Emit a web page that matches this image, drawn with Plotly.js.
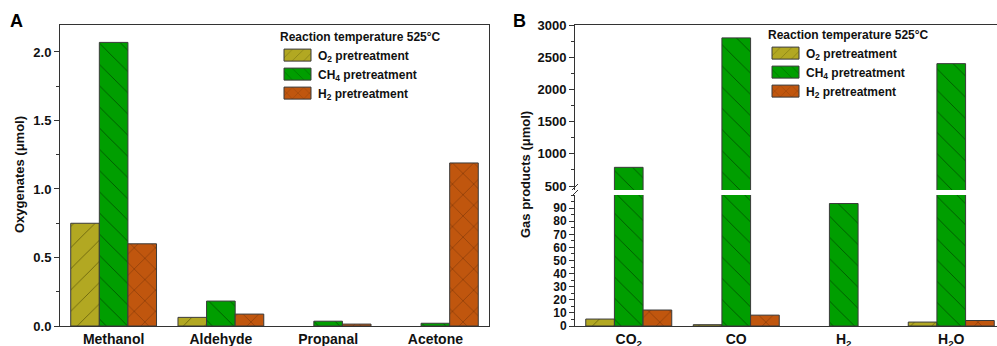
<!DOCTYPE html>
<html>
<head>
<meta charset="utf-8">
<script src="https://cdn.plot.ly/plotly-3.0.1.min.js"></script>
<style>
html,body{margin:0;padding:0;overflow:hidden;background:#fff;width:997px;height:346px;}
#chart{width:1010px;height:346px;}
</style>
</head>
<body>
<div id="chart"></div>
<script>
// ---- data ----
const catsA = ['Methanol', 'Aldehyde', 'Propanal', 'Acetone'];
const o2A = [0.75, 0.063, 0, 0];
const ch4A = [2.07, 0.182, 0.035, 0.02];
const h2A = [0.60, 0.087, 0.014, 1.19];

const catsB = ['CO<sub>2</sub>', 'CO', 'H<sub>2</sub>', 'H<sub>2</sub>O'];
const o2B = [5.3, 1, 0, 3];
const ch4B = [790, 2800, 93.5, 2400];
const h2B = [12.2, 8.3, 0, 4.2];

const seriesNames = ['O<sub>2</sub> pretreatment', 'CH<sub>4</sub> pretreatment', 'H<sub>2</sub> pretreatment'];
const legendTitle = 'Reaction temperature 525°C';
const yTitleA = 'Oxygenates (μmol)';
const yTitleB = 'Gas products (μmol)';
const lowerTickVals = [0, 10, 20, 30, 40, 50, 60, 70, 80, 90];

// ---- styles ----
const W = 1010, H = 346;
const FONT = 'Liberation Sans, Arial, sans-serif';
const styles = [
  {bg: '#B2A822', fg: '#5e5808', shape: '/'},
  {bg: '#009E00', fg: '#004a00', shape: '\\'},
  {bg: '#C0560E', fg: '#5a2403', shape: 'x'}
];

function mk(x, y, i, xa, ya, legend, show) {
  const s = styles[i];
  return {
    type: 'bar', x: x, y: y, name: seriesNames[i],
    xaxis: xa, yaxis: ya, legend: legend, showlegend: show,
    marker: {
      color: s.bg,
      line: {color: '#3a3a3a', width: y.map(v => (v > 0 ? 1 : 0))},
      pattern: {shape: s.shape, bgcolor: s.bg, fgcolor: s.fg, fgopacity: 1, size: 15, solidity: 0.05, fillmode: 'overlay'}
    },
    hoverinfo: 'skip'
  };
}

const valsA = [o2A, ch4A, h2A];
const valsB = [o2B, ch4B, h2B];
const traces = [];
valsA.forEach((v, i) => traces.push(mk(catsA, v, i, 'x', 'y', 'legend', true)));
valsB.forEach((v, i) => traces.push(mk(catsB, v, i, 'x2', 'y2', 'legend2', true)));
valsB.forEach((v, i) => traces.push(mk(catsB, v, i, 'x3', 'y3', 'legend2', false)));

const px = v => v / W;           // x pixel -> paper
const py = v => 1 - v / H;       // y pixel (from top) -> paper

const tickFont = {family: FONT, size: 13, color: '#111', weight: 700};
const smallTickFont = {family: FONT, size: 12, color: '#111', weight: 700};
const catFont = {family: FONT, size: 14, color: '#111', weight: 700};
const legFont = {family: FONT, size: 12, color: '#111', weight: 700};
const lineCol = '#333';

const baseY = {
  showgrid: false, zeroline: false, showline: true, linecolor: lineCol, linewidth: 1,
  ticks: 'outside', ticklen: 5, tickwidth: 1, tickcolor: lineCol,
  tickfont: tickFont, fixedrange: true
};

const layout = {
  width: W, height: H,
  margin: {l: 0, r: 0, t: 0, b: 0},
  paper_bgcolor: '#fff', plot_bgcolor: 'rgba(0,0,0,0)',
  barmode: 'group', bargap: 0.2, bargroupgap: 0,
  showlegend: true,
  xaxis: {
    domain: [px(60), px(489)], anchor: 'y', range: [-0.5, 3.5],
    showline: true, mirror: true, linecolor: lineCol, linewidth: 1,
    ticks: '', showgrid: false, tickfont: catFont, fixedrange: true
  },
  yaxis: Object.assign({}, baseY, {
    domain: [py(326), py(25)], anchor: 'x', range: [0, 2.197], dtick: 0.5, tick0: 0,
    tickformat: '.1f', mirror: true,
    minor: {dtick: 0.25, tick0: 0, ticks: 'outside', ticklen: 3, tickcolor: lineCol, showgrid: false}
  }),
  xaxis2: {
    domain: [px(575), px(1005)], anchor: 'y2', range: [-0.5, 3.5],
    showline: true, linecolor: lineCol, linewidth: 1,
    ticks: '', showgrid: false, tickfont: catFont, fixedrange: true
  },
  yaxis2: Object.assign({}, baseY, {
    domain: [py(326), py(195)], anchor: 'x2', range: [0, 100],
    tickmode: 'array', tickvals: lowerTickVals, tickfont: smallTickFont,
    minor: {dtick: 5, tick0: 0, ticks: 'outside', ticklen: 3, tickcolor: lineCol, showgrid: false}
  }),
  xaxis3: {
    domain: [px(575), px(1005)], anchor: 'y3', matches: 'x2', range: [-0.5, 3.5],
    side: 'top', showline: true, linecolor: lineCol, linewidth: 1,
    ticks: '', showticklabels: false, showgrid: false, fixedrange: true
  },
  yaxis3: Object.assign({}, baseY, {
    domain: [py(190), py(25)], anchor: 'x3', range: [438, 3000], dtick: 500, tick0: 0,
    minor: {dtick: 250, tick0: 0, ticks: 'outside', ticklen: 3, tickcolor: lineCol, showgrid: false}
  }),
  legend: {
    x: px(278), y: py(25), xanchor: 'left', yanchor: 'top',
    bgcolor: 'rgba(0,0,0,0)', borderwidth: 0,
    font: legFont, title: {text: legendTitle, font: legFont},
    itemclick: false, itemdoubleclick: false, tracegroupgap: 0
  },
  legend2: {
    x: px(766), y: py(23), xanchor: 'left', yanchor: 'top',
    bgcolor: 'rgba(0,0,0,0)', borderwidth: 0,
    font: legFont, title: {text: legendTitle, font: legFont},
    itemclick: false, itemdoubleclick: false, tracegroupgap: 0
  },
  annotations: [
    {text: 'A', xref: 'paper', yref: 'paper', x: px(16), y: py(21), xanchor: 'center', yanchor: 'middle', showarrow: false,
     font: {family: FONT, size: 18, color: '#000', weight: 700}},
    {text: 'B', xref: 'paper', yref: 'paper', x: px(519), y: py(21), xanchor: 'center', yanchor: 'middle', showarrow: false,
     font: {family: FONT, size: 18, color: '#000', weight: 700}},
    {text: yTitleA, xref: 'paper', yref: 'paper', x: px(19), y: py(175), xanchor: 'center', yanchor: 'middle', textangle: -90, showarrow: false,
     font: {family: FONT, size: 13, color: '#111', weight: 700}},
    {text: yTitleB, xref: 'paper', yref: 'paper', x: px(525), y: py(175), xanchor: 'center', yanchor: 'middle', textangle: -90, showarrow: false,
     font: {family: FONT, size: 13, color: '#111', weight: 700}}
  ],
  shapes: [
    {type: 'line', xref: 'paper', yref: 'paper', x0: px(572), x1: px(578), y0: py(190), y1: py(184), line: {color: lineCol, width: 1}},
    {type: 'line', xref: 'paper', yref: 'paper', x0: px(572), x1: px(578), y0: py(196), y1: py(190), line: {color: lineCol, width: 1}}
  ]
};

function widenSwatches() {
  // reference legend swatches are wide rectangles, not squares
  document.querySelectorAll('g.legendpoints path').forEach(p => {
    p.setAttribute('d', 'M-14,6H13V-6H-14Z');
  });
}

const gdEl = document.getElementById('chart');
Plotly.newPlot(gdEl, traces, layout, {displayModeBar: false, staticPlot: true}).then(gd => {
  widenSwatches();
  gd.on && gd.on('plotly_afterplot', widenSwatches);
  setTimeout(widenSwatches, 30);
  setTimeout(widenSwatches, 200);
});
</script>
</body>
</html>
